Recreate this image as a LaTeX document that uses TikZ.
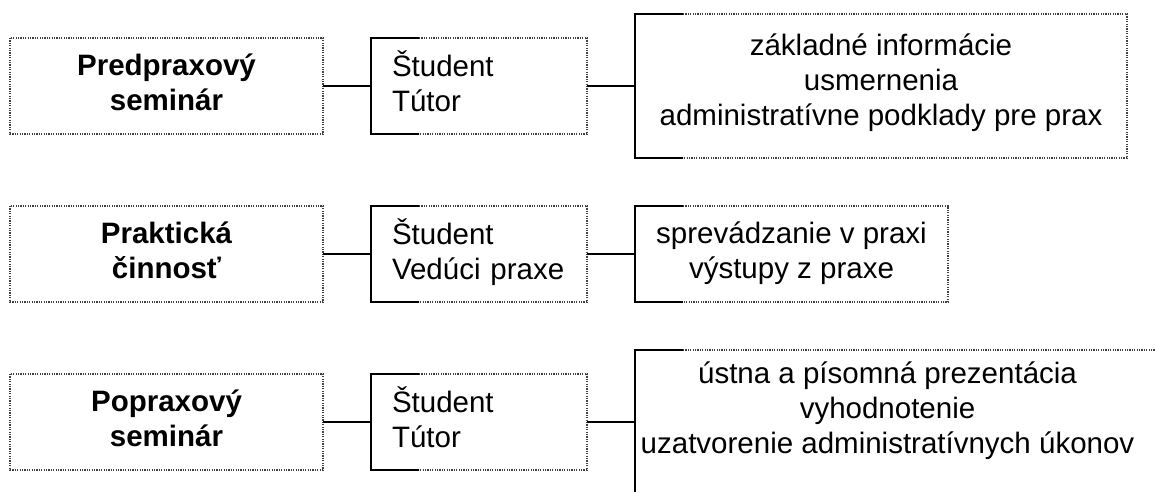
\documentclass[tikz,border=0pt]{standalone}
\usepackage{fontspec}
\setmainfont{Liberation Sans}
\usetikzlibrary{calc}
\newcommand\hirule{\rule{0pt}{24.5pt}}
\newcommand\lowrule[1]{\rule[-#1pt]{0pt}{#1pt}}
\begin{document}
\begin{tikzpicture}[x=1pt,y=-1pt,
  txt/.style={font=\fontsize{29.5}{35}\selectfont},
  box/.style={txt, inner sep=0pt, outer sep=0pt},
  abox/.style={box, minimum width=313pt, minimum height=96pt, align=center,
    font=\fontsize{29.5}{35}\selectfont\bfseries},
  bbox/.style={box, minimum height=96pt, inner xsep=21pt, text width=174pt, align=left},
  cbox/.style={box, align=center},
  solidln/.style={line width=2.2pt, black},
  dotln/.style={line width=1.2pt, black!75, dash pattern=on 1.2pt off 1.2pt},
  link/.style={line width=2pt, black}]
\useasboundingbox (0,0) rectangle (1155,491);
\clip (0,0) rectangle (1155,491);

% row 1
\node[abox] (a1) at (166.5,86) {\hirule Predpraxový\\seminár\lowrule{10.5}};
\node[bbox] (b1) at (479,86) {\hirule Študent\\Tútor\lowrule{10.5}};
\node[cbox, minimum width=492pt, minimum height=144pt] (c1) at (881,86)
  {\hirule základné informácie\\usmernenia\\administratívne podklady pre prax\lowrule{16.5}};
% row 2
\node[abox] (a2) at (166.5,254) {\hirule Praktická\\činnosť\lowrule{10.5}};
\node[bbox] (b2) at (479,254) {\hirule Študent\\Vedúci praxe\lowrule{10.5}};
\node[cbox, minimum width=313pt, minimum height=96pt] (c2) at (791.5,254)
  {\hirule sprevádzanie v praxi\\výstupy z praxe\lowrule{10.5}};
% row 3
\node[abox] (a3) at (166.5,422) {\hirule Popraxový\\seminár\lowrule{10.5}};
\node[bbox] (b3) at (479,422) {\hirule Študent\\Tútor\lowrule{10.5}};
\node[cbox, minimum width=505pt, minimum height=144pt] (c3) at (887.5,422)
  {\hirule ústna a písomná prezentácia\\vyhodnotenie\\uzatvorenie administratívnych úkonov\lowrule{32.5}};

% dotted boxes
\foreach \n in {a1,a2,a3}
  \draw[dotln] (\n.north west) rectangle (\n.south east);
% half-solid boxes
\foreach \n in {b1,b2,b3,c1,c2}{
  \draw[dotln] ($(\n.north west)+(48,0)$) -- (\n.north east) -- (\n.south east) -- ($(\n.south west)+(48,0)$);
  \draw[solidln] ($(\n.north west)+(48,0)$) -- (\n.north west) -- (\n.south west) -- ($(\n.south west)+(48,0)$);
}
\draw[dotln] ($(c3.north west)+(48,0)$) -- ($(c3.north east)+(40,0)$);
\draw[solidln] ($(c3.north west)+(48,0)$) -- (c3.north west) -- (c3.south west);

% connectors
\foreach \r in {1,2,3}{
  \draw[link] (a\r.east) -- (b\r.west);
  \draw[link] (b\r.east) -- (c\r.west);
}
\end{tikzpicture}
\end{document}
